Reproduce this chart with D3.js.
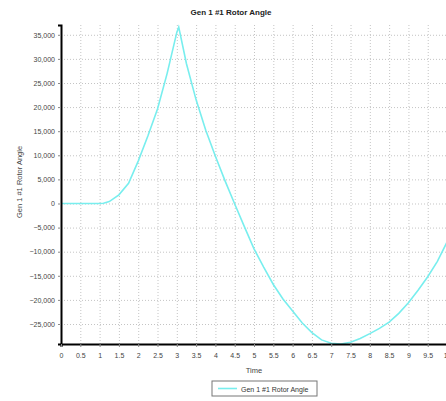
<!DOCTYPE html>
<html>
<head>
<meta charset="utf-8">
<script src="https://cdn.jsdelivr.net/npm/d3@7"></script>
<style>
  body { margin: 0; background: #fff; }
  svg { display: block; font-family: "Liberation Sans", Arial, sans-serif; }
  .grid line { stroke: #c4c4c4; stroke-dasharray: 1,2; }
  .grid path { display: none; }
  .tick text { fill: #444; font-size: 7px; }
</style>
</head>
<body>
<div id="chart"></div>
<script>
// time in seconds
var times = [0, 0.5, 1.0, 1.1, 1.25, 1.5, 1.75, 2.0, 2.25, 2.5, 2.75, 3.0, 3.05, 3.25, 3.5, 3.75, 4.0, 4.25, 4.5, 4.75,
             5.0, 5.25, 5.5, 5.75, 6.0, 6.25, 6.5, 6.75, 7.0, 7.25, 7.5, 7.75, 8.0, 8.25, 8.5, 8.75, 9.0, 9.25, 9.5, 9.75, 10.0];
// rotor angle
var angle = [0, 0, 0, 50, 400, 1800, 4200, 8800, 14000, 19600, 27000, 35500, 36600, 29000, 21500, 15200, 9800, 4700, -100, -4800,
             -9400, -13200, -16800, -19800, -22300, -24800, -26800, -28300, -29000, -29150, -28800, -28000, -27000, -25900, -24600, -22800, -20600, -18000, -15200, -12000, -8000];
var yTicks = [-25000, -20000, -15000, -10000, -5000, 0, 5000, 10000, 15000, 20000, 25000, 30000, 35000];
var xTicks = [0, 0.5, 1, 1.5, 2, 2.5, 3, 3.5, 4, 4.5, 5, 5.5, 6, 6.5, 7, 7.5, 8, 8.5, 9, 9.5, 10];
var seriesName = "Gen 1 #1 Rotor Angle";

var data = times.map(function (t, i) { return {t: t, v: angle[i]}; });

var margin = {top: 25, left: 61},
    width = 420,   // runs past the window edge on purpose
    height = 319;

var svg = d3.select("#chart").append("svg")
    .attr("width", 446)
    .attr("height", 401);

var x = d3.scaleLinear().domain([0, 10.88]).range([0, width]);
var y = d3.scaleLinear().domain([-29150, 37030]).range([height, 0]);

var g = svg.append("g")
    .attr("transform", "translate(" + margin.left + "," + margin.top + ")");

// grid
g.append("g").attr("class", "grid")
    .call(d3.axisLeft(y).tickValues(yTicks).tickSize(-width).tickFormat(""));
g.append("g").attr("class", "grid")
    .attr("transform", "translate(0," + height + ")")
    .call(d3.axisBottom(x).tickValues(xTicks).tickSize(-height).tickFormat(""));

// the line
var line = d3.line()
    .x(function (d) { return x(d.t); })
    .y(function (d) { return y(d.v); });

g.append("path")
    .datum(data)
    .attr("d", line)
    .attr("fill", "none")
    .attr("stroke", "#78eeee")
    .attr("stroke-width", 1.6);

// axes
var yAxis = g.append("g")
    .call(d3.axisLeft(y).tickValues(yTicks).tickSize(3).tickPadding(3).tickFormat(d3.format(",")));
yAxis.select(".domain").attr("stroke", "#000").attr("stroke-width", 2);
yAxis.selectAll(".tick line").attr("stroke", "#888");

var xAxis = g.append("g")
    .attr("transform", "translate(0," + height + ")")
    .call(d3.axisBottom(x).tickValues(xTicks).tickSize(3).tickPadding(6).tickFormat(d3.format("")));
xAxis.select(".domain").attr("stroke", "#000").attr("stroke-width", 2);
xAxis.selectAll(".tick line").attr("stroke", "#888");

// titles
svg.append("text")
    .attr("x", 231).attr("y", 15)
    .attr("text-anchor", "middle")
    .attr("font-size", 8).attr("font-weight", "bold").attr("fill", "#222")
    .text(seriesName);

svg.append("text")
    .attr("transform", "translate(22,182) rotate(-90)")
    .attr("text-anchor", "middle")
    .attr("font-size", 7.5).attr("fill", "#444")
    .text(seriesName);

svg.append("text")
    .attr("x", 254).attr("y", 373)
    .attr("text-anchor", "middle")
    .attr("font-size", 7.5).attr("fill", "#444")
    .text("Time");

// legend
var lg = svg.append("g").attr("transform", "translate(212,381)");
lg.append("rect")
    .attr("width", 105).attr("height", 15)
    .attr("fill", "#fff").attr("stroke", "#777").attr("stroke-width", 1);
lg.append("line")
    .attr("x1", 6).attr("x2", 25).attr("y1", 7.5).attr("y2", 7.5)
    .attr("stroke", "#78eeee").attr("stroke-width", 1.6);
lg.append("text")
    .attr("x", 29).attr("y", 10.5)
    .attr("font-size", 7).attr("fill", "#333")
    .text(seriesName);
</script>
</body>
</html>
